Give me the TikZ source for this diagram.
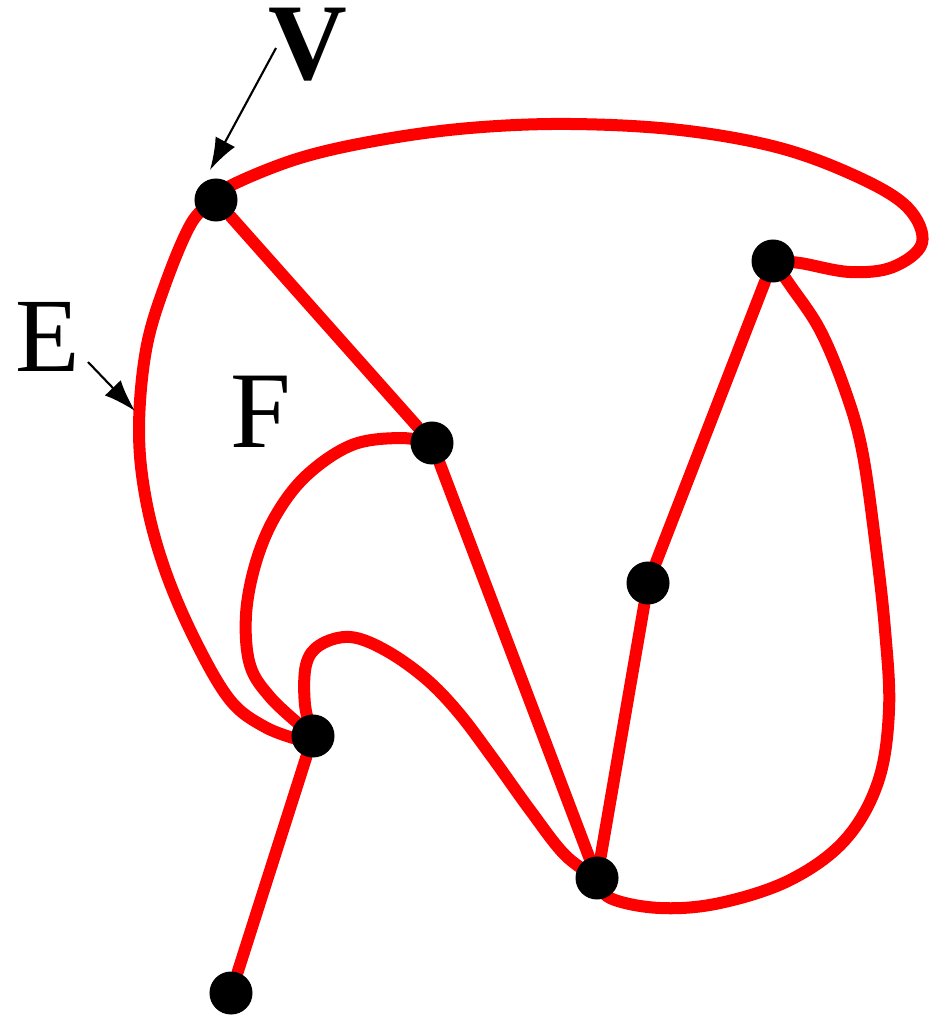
\documentclass[tikz,border=0pt]{standalone}
\usepackage{fontspec}
\setmainfont{Liberation Serif}
\usetikzlibrary{backgrounds,arrows.meta}
\begin{document}
\begin{tikzpicture}[x=0.01cm,y=-0.01cm,
  dot/.style={circle,fill=black,inner sep=0pt,minimum size=0.43cm},
  edge/.style={red,line width=0.12cm,line cap=round,line join=round},
  lbl/.style={inner sep=0pt,text=black,anchor=base,text height=0.68em,text depth=0pt},
  pointer/.style={black,line width=0.6pt,-{Latex[length=0.32cm,width=0.22cm]}}]
\useasboundingbox (0,0) rectangle (933,1019);
\node[dot] (A) at (216,200) {};
\node[dot] (B) at (432,443) {};
\node[dot] (C) at (773,261) {};
\node[dot] (D) at (648,583) {};
\node[dot] (E) at (313,736) {};
\node[dot] (G) at (597,878) {};
\node[dot] (H) at (231,993) {};
\begin{pgfonlayer}{background}
\draw[edge] (A) -- (B);
\draw[edge] (B) -- (G);
\draw[edge] (C) -- (D);
\draw[edge] (D) -- (G);
\draw[edge] (E) -- (H);
\draw[edge] plot[smooth,tension=0.6] coordinates {(A.center) (232,185) (300,158) (380,140) (470,128) (570,124) (680,130) (780,148) (860,178) (908,208) (922,243) (893,267) (850,272) (800,263) (C.center)};
\draw[edge] plot[smooth,tension=0.6] coordinates {(C.center) (790,285) (820,330) (845,390) (862,450) (875,540) (885,630) (889,710) (878,782) (845,840) (790,880) (720,903) (660,908) (610,898) (G.center)};
\draw[edge] plot[smooth,tension=0.6] coordinates {(A.center) (192,222) (165,285) (146,350) (139,430) (146,500) (165,570) (195,640) (230,700) (265,727) (300,740)};
\draw[edge] plot[smooth,tension=0.6] coordinates {(B.center) (400,438) (352,445) (307,475) (276,515) (256,562) (246,615) (250,665) (270,697) (300,725)};
\draw[edge] plot[smooth,tension=0.6] coordinates {(E.center) (305,705) (306,665) (320,645) (350,637) (385,650) (425,678) (458,712) (492,757) (530,810) (565,855) (G.center)};
\end{pgfonlayer}
\node[lbl,font=\fontsize{31}{31}\selectfont\bfseries] (Vl) at (308,80) {V};
\node[lbl,font=\fontsize{30}{30}\selectfont] (El) at (48,372) {E};
\node[lbl,font=\fontsize{31}{31}\selectfont] (Fl) at (261,447) {F};
\coordinate (Vs) at (276,48);
\coordinate (Vt) at (210,170);
\coordinate (Es) at (88,362);
\coordinate (Et) at (135,411);
\draw[pointer] (Vs) -- (Vt);
\draw[pointer] (Es) -- (Et);
\end{tikzpicture}
\end{document}
